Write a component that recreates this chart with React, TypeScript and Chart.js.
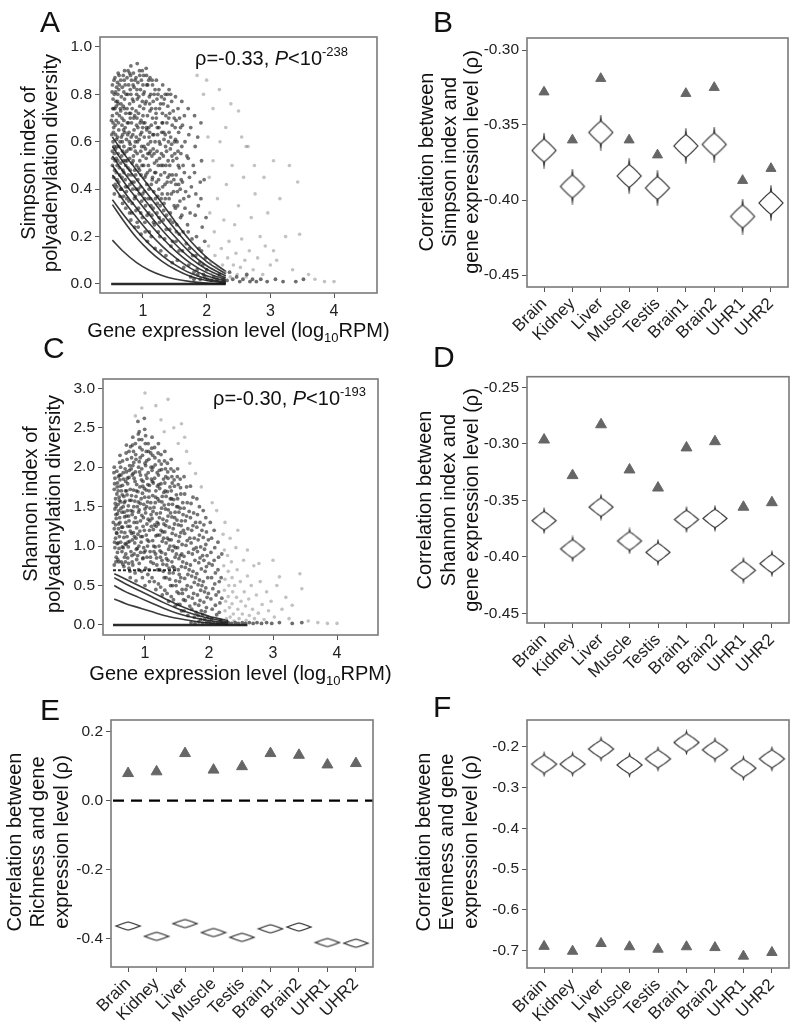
import React, { useEffect, useRef } from 'react';
import { Chart, registerables } from 'chart.js';

Chart.register(...registerables);

const FONT = '"Liberation Sans", Arial, Helvetica, sans-serif';

// ---------- categories ----------
const tissues = ['Brain', 'Kidney', 'Liver', 'Muscle', 'Testis', 'Brain1', 'Brain2', 'UHR1', 'UHR2'];

// ---------- B: Simpson index correlations ----------
const simpsonTriangle = [-0.328, -0.36, -0.319, -0.36, -0.37, -0.329, -0.325, -0.387, -0.379];
const simpsonViolin = [-0.367, -0.391, -0.355, -0.384, -0.392, -0.364, -0.363, -0.411, -0.402];
// ---------- D: Shannon index correlations ----------
const shannonTriangle = [-0.2965, -0.328, -0.283, -0.323, -0.339, -0.3035, -0.298, -0.356, -0.352];
const shannonViolin = [-0.368, -0.393, -0.356, -0.386, -0.396, -0.367, -0.366, -0.412, -0.406];
// ---------- E: Richness correlations ----------
const richnessTriangle = [0.079, 0.084, 0.137, 0.089, 0.099, 0.137, 0.132, 0.104, 0.108];
const richnessViolin = [-0.364, -0.394, -0.357, -0.383, -0.397, -0.372, -0.367, -0.412, -0.414];
const richnessRefLine = 0;
// ---------- F: Evenness correlations ----------
const evennessTriangle = [-0.689, -0.701, -0.682, -0.69, -0.696, -0.69, -0.692, -0.713, -0.704];
const evennessViolin = [-0.243, -0.243, -0.206, -0.245, -0.23, -0.19, -0.208, -0.253, -0.23];

// ---------- tick values ----------
const exprTicks = [1, 2, 3, 4];
const simpsonTicks = [0, 0.2, 0.4, 0.6, 0.8, 1.0];
const shannonTicks = [0, 0.5, 1, 1.5, 2, 2.5, 3];
const bTicks = [-0.45, -0.4, -0.35, -0.3];
const dTicks = [-0.45, -0.4, -0.35, -0.3, -0.25];
const eTicks = [-0.4, -0.2, 0, 0.2];
const fTicks = [-0.7, -0.6, -0.5, -0.4, -0.3, -0.2];

// ---------- A: Simpson index vs expression (read estimates) ----------
const simpsonDense = [
  [0.52,0.84],[0.53,0.78],[0.52,0.71],[0.54,0.66],[0.53,0.6],[0.55,0.55],[0.52,0.5],[0.54,0.45],[0.56,0.87],[0.57,0.81],[0.56,0.74],[0.58,0.69],[0.57,0.63],[0.59,0.58],[0.56,0.52],[0.58,0.47],[0.59,0.41],[0.55,0.38],[0.6,0.85],[0.6,0.77],[0.59,0.72],[0.6,0.62],[0.58,0.53],[0.55,0.8],[0.57,0.57],[0.53,0.68],[0.54,0.74],[0.51,0.63],[0.52,0.56],[0.58,0.75],
  [0.61,0.89],[0.62,0.82],[0.61,0.76],[0.63,0.71],[0.62,0.65],[0.64,0.6],[0.61,0.55],[0.63,0.49],[0.62,0.43],[0.64,0.37],[0.65,0.86],[0.66,0.79],[0.65,0.73],[0.67,0.67],[0.66,0.62],[0.68,0.56],[0.65,0.51],[0.67,0.45],[0.66,0.4],[0.68,0.34],[0.69,0.88],[0.7,0.81],[0.69,0.75],[0.7,0.69],[0.68,0.63],[0.7,0.58],[0.69,0.52],[0.7,0.47],[0.63,0.84],[0.67,0.7],
  [0.71,0.9],[0.72,0.84],[0.71,0.78],[0.73,0.72],[0.72,0.66],[0.74,0.61],[0.71,0.55],[0.73,0.5],[0.72,0.44],[0.74,0.39],[0.73,0.32],[0.75,0.87],[0.76,0.8],[0.75,0.74],[0.77,0.68],[0.76,0.63],[0.78,0.57],[0.75,0.52],[0.77,0.46],[0.76,0.41],[0.78,0.35],[0.79,0.89],[0.8,0.82],[0.79,0.76],[0.8,0.7],[0.78,0.64],[0.8,0.59],[0.79,0.53],[0.8,0.48],[0.79,0.3],
  [0.81,0.92],[0.82,0.86],[0.81,0.8],[0.83,0.74],[0.82,0.68],[0.84,0.63],[0.81,0.57],[0.83,0.51],[0.82,0.46],[0.84,0.4],[0.83,0.34],[0.81,0.27],[0.85,0.89],[0.86,0.83],[0.85,0.77],[0.87,0.71],[0.86,0.65],[0.88,0.6],[0.85,0.54],[0.87,0.48],[0.86,0.43],[0.88,0.37],[0.87,0.24],[0.89,0.87],[0.9,0.8],[0.89,0.73],[0.9,0.67],[0.88,0.56],[0.9,0.5],[0.89,0.31],
  [0.91,0.93],[0.92,0.85],[0.91,0.78],[0.93,0.72],[0.92,0.66],[0.94,0.61],[0.91,0.55],[0.93,0.49],[0.92,0.44],[0.94,0.38],[0.93,0.32],[0.91,0.26],[0.95,0.88],[0.96,0.82],[0.95,0.75],[0.97,0.69],[0.96,0.63],[0.98,0.58],[0.95,0.52],[0.97,0.46],[0.96,0.41],[0.98,0.35],[0.97,0.21],[0.99,0.9],[1.0,0.84],[0.99,0.77],[1.0,0.71],[0.98,0.64],[1.0,0.54],[0.99,0.28],
  [1.01,0.88],[1.02,0.81],[1.01,0.74],[1.03,0.68],[1.02,0.62],[1.04,0.57],[1.01,0.5],[1.03,0.45],[1.02,0.39],[1.04,0.33],[1.03,0.26],[1.05,0.91],[1.06,0.84],[1.05,0.77],[1.07,0.71],[1.06,0.65],[1.08,0.59],[1.05,0.53],[1.07,0.47],[1.06,0.42],[1.08,0.36],[1.07,0.18],[1.09,0.86],[1.1,0.79],[1.09,0.66],[1.1,0.55],[1.09,0.3],[1.1,0.22],
  [1.11,0.87],[1.12,0.8],[1.11,0.73],[1.13,0.67],[1.12,0.6],[1.14,0.54],[1.11,0.48],[1.13,0.42],[1.12,0.36],[1.14,0.29],[1.13,0.2],[1.15,0.84],[1.16,0.77],[1.15,0.7],[1.17,0.63],[1.16,0.57],[1.18,0.51],[1.15,0.45],[1.17,0.39],[1.16,0.32],[1.18,0.25],[1.19,0.82],[1.2,0.74],[1.19,0.6],[1.2,0.47],[1.19,0.15],
  [1.21,0.86],[1.22,0.78],[1.21,0.7],[1.23,0.63],[1.22,0.56],[1.24,0.5],[1.21,0.43],[1.23,0.37],[1.22,0.3],[1.24,0.22],[1.25,0.82],[1.26,0.74],[1.25,0.66],[1.27,0.59],[1.26,0.53],[1.28,0.46],[1.25,0.4],[1.27,0.33],[1.26,0.26],[1.28,0.14],[1.29,0.79],[1.3,0.68],[1.29,0.55],[1.3,0.38],
  [1.31,0.84],[1.32,0.76],[1.31,0.68],[1.33,0.61],[1.32,0.54],[1.34,0.47],[1.31,0.41],[1.33,0.34],[1.32,0.27],[1.34,0.19],[1.35,0.8],[1.36,0.71],[1.35,0.63],[1.37,0.56],[1.36,0.5],[1.38,0.43],[1.35,0.36],[1.37,0.29],[1.36,0.12],[1.39,0.75],[1.4,0.6],[1.39,0.45],
  [1.41,0.82],[1.42,0.72],[1.41,0.64],[1.43,0.57],[1.42,0.5],[1.44,0.43],[1.41,0.36],[1.43,0.3],[1.42,0.23],[1.44,0.16],[1.45,0.77],[1.46,0.67],[1.45,0.59],[1.47,0.52],[1.46,0.46],[1.48,0.39],[1.47,0.26],[1.46,0.09],[1.49,0.7],[1.5,0.55],[1.49,0.33],
  [1.51,0.79],[1.52,0.69],[1.51,0.61],[1.53,0.53],[1.52,0.46],[1.54,0.39],[1.51,0.32],[1.53,0.25],[1.52,0.18],[1.54,0.1],[1.55,0.74],[1.56,0.64],[1.55,0.56],[1.57,0.49],[1.56,0.42],[1.58,0.35],[1.57,0.21],[1.59,0.66],[1.6,0.44],[1.59,0.28],
  [1.61,0.77],[1.62,0.67],[1.61,0.58],[1.63,0.5],[1.62,0.43],[1.64,0.36],[1.61,0.29],[1.63,0.22],[1.62,0.14],[1.64,0.07],[1.65,0.71],[1.66,0.6],[1.65,0.47],[1.67,0.39],[1.66,0.32],[1.68,0.17],[1.69,0.54],[1.7,0.25],
  [1.71,0.74],[1.72,0.63],[1.71,0.53],[1.73,0.45],[1.72,0.37],[1.74,0.3],[1.71,0.22],[1.73,0.15],[1.72,0.08],[1.75,0.66],[1.76,0.41],[1.77,0.19],[1.78,0.12],[1.79,0.5],[1.8,0.05],
  [1.81,0.71],[1.82,0.58],[1.81,0.47],[1.83,0.38],[1.82,0.29],[1.84,0.2],[1.83,0.12],[1.85,0.06],[1.86,0.62],[1.87,0.33],[1.88,0.15],[1.89,0.09],[1.9,0.43],
  [1.91,0.68],[1.92,0.52],[1.91,0.36],[1.93,0.24],[1.92,0.14],[1.94,0.08],[1.95,0.04],[1.96,0.44],[1.97,0.18],[1.98,0.11],[1.99,0.28],[2.0,0.06],
];
const simpsonDenseCore = [
  [0.515,0.81],[0.525,0.74],[0.535,0.64],[0.545,0.58],[0.555,0.48],[0.565,0.42],[0.575,0.77],[0.585,0.61],[0.595,0.5],[0.505,0.69],[0.545,0.86],[0.565,0.67],[0.585,0.83],[0.595,0.44],[0.525,0.53],
  [0.605,0.8],[0.615,0.68],[0.625,0.58],[0.635,0.46],[0.645,0.4],[0.655,0.76],[0.665,0.54],[0.675,0.83],[0.685,0.48],[0.695,0.65],[0.605,0.52],[0.625,0.88],[0.645,0.74],[0.675,0.6],[0.695,0.37],
  [0.705,0.86],[0.715,0.64],[0.725,0.52],[0.735,0.8],[0.745,0.36],[0.755,0.68],[0.765,0.49],[0.775,0.84],[0.785,0.6],[0.795,0.42],[0.705,0.74],[0.725,0.41],[0.745,0.56],[0.765,0.9],[0.785,0.72],
  [0.805,0.88],[0.815,0.62],[0.825,0.43],[0.835,0.78],[0.845,0.52],[0.855,0.7],[0.865,0.36],[0.875,0.86],[0.885,0.46],[0.895,0.62],[0.805,0.72],[0.825,0.3],[0.845,0.84],[0.865,0.58],[0.895,0.4],
  [0.905,0.82],[0.915,0.6],[0.925,0.4],[0.935,0.79],[0.945,0.48],[0.955,0.68],[0.965,0.3],[0.975,0.86],[0.985,0.5],[0.995,0.66],[0.905,0.7],[0.925,0.24],[0.945,0.9],[0.965,0.56],[0.995,0.38],
  [1.005,0.8],[1.015,0.58],[1.025,0.36],[1.035,0.76],[1.045,0.46],[1.055,0.66],[1.065,0.29],[1.075,0.84],[1.085,0.5],[1.095,0.62],[1.005,0.68],[1.035,0.22],[1.055,0.88],[1.075,0.55],[1.095,0.4],
  [1.105,0.76],[1.115,0.56],[1.125,0.33],[1.135,0.74],[1.145,0.44],[1.155,0.63],[1.165,0.26],[1.175,0.8],[1.185,0.47],[1.195,0.68],[1.105,0.64],[1.145,0.86],[1.175,0.55],[1.195,0.36],
  [1.205,0.72],[1.215,0.52],[1.225,0.34],[1.235,0.8],[1.245,0.44],[1.255,0.6],[1.265,0.2],[1.275,0.76],[1.285,0.5],[1.295,0.64],[1.225,0.66],[1.255,0.28],[1.285,0.36],
  [1.305,0.72],[1.315,0.5],[1.325,0.31],[1.335,0.78],[1.345,0.42],[1.355,0.58],[1.365,0.23],[1.375,0.68],[1.385,0.38],[1.395,0.52],[1.325,0.64],[1.385,0.8],
  [1.405,0.7],[1.415,0.46],[1.425,0.27],[1.435,0.62],[1.445,0.38],[1.455,0.54],[1.465,0.18],[1.475,0.73],[1.485,0.44],[1.495,0.6],[1.435,0.8],
  [1.505,0.66],[1.515,0.42],[1.525,0.22],[1.535,0.6],[1.545,0.33],[1.555,0.5],[1.565,0.14],[1.575,0.7],[1.585,0.4],[1.595,0.55],
];
const simpsonNearZero = [
  [1.75,0.03],[1.8,0.02],[1.86,0.04],[1.9,0.02],[1.97,0.03],[2.01,0.02],[2.07,0.015],[2.11,0.03],[2.16,0.02],[2.2,0.04],[2.26,0.02],[2.32,0.015],[2.36,0.05],[2.41,0.02],[2.47,0.03],[2.52,0.01],[2.57,0.02],[2.63,0.04],[2.68,0.01],[2.72,0.02],[2.78,0.01],[2.85,0.02],[2.95,0.01],[3.08,0.02],[3.2,0.01],[3.4,0.01],[3.52,0.02],
];
const simpsonSparse = [
  [2.02,0.62],[2.04,0.45],[2.05,0.3],[2.03,0.16],[2.06,0.09],[2.08,0.04],[2.1,0.52],[2.12,0.22],[2.13,0.12],[2.15,0.07],[2.17,0.36],[2.19,0.03],[2.21,0.6],[2.23,0.15],[2.25,0.08],[2.27,0.27],[2.29,0.05],[2.31,0.42],[2.33,0.11],[2.35,0.18],[2.37,0.03],[2.4,0.5],[2.42,0.08],[2.44,0.25],[2.46,0.13],[2.48,0.04],[2.5,0.33],[2.53,0.07],[2.55,0.19],[2.58,0.45],[2.6,0.1],[2.62,0.03],[2.65,0.58],[2.67,0.14],[2.7,0.28],[2.73,0.06],[2.76,0.38],[2.8,0.11],[2.84,0.2],[2.88,0.04],[2.92,0.16],[2.96,0.3],[3.0,0.08],[3.05,0.14],[3.1,0.1],[3.15,0.36],[3.24,0.2],[3.3,0.5],[3.35,0.06],[3.43,0.43],[3.46,0.21],[3.6,0.04],[3.7,0.02],[3.85,0.01],[4.0,0.01],
  [2.0,0.86],[2.2,0.82],[1.85,0.88],[2.38,0.76],[2.5,0.73],[1.95,0.8],[2.1,0.74],[2.3,0.66],[2.62,0.58],[2.75,0.5],[2.9,0.45],[3.05,0.52],[2.55,0.62],
];
const curveX = [0.52, 0.7, 0.9, 1.1, 1.3, 1.5, 1.75, 2.0, 2.3];
const simpsonCurveY = [
  [0.185, 0.135, 0.09, 0.058, 0.036, 0.021, 0.01, 0.004, 0.001],
  [0.335, 0.265, 0.195, 0.14, 0.095, 0.062, 0.032, 0.015, 0.005],
  [0.355, 0.29, 0.225, 0.168, 0.12, 0.082, 0.045, 0.022, 0.008],
  [0.42, 0.35, 0.28, 0.215, 0.16, 0.113, 0.066, 0.035, 0.013],
  [0.46, 0.39, 0.32, 0.255, 0.195, 0.142, 0.087, 0.048, 0.019],
  [0.5, 0.43, 0.36, 0.292, 0.228, 0.17, 0.108, 0.062, 0.026],
  [0.54, 0.47, 0.4, 0.33, 0.262, 0.2, 0.13, 0.077, 0.034],
  [0.58, 0.51, 0.44, 0.37, 0.3, 0.232, 0.155, 0.094, 0.043],
  [0.62, 0.55, 0.48, 0.41, 0.34, 0.265, 0.18, 0.112, 0.053],
];
const simpsonZeroLine = [[0.5, 0], [2.3, 0]];

// ---------- C: Shannon index vs expression (read estimates) ----------
const shannonDense = [
  [0.52,2.0],[0.53,1.86],[0.52,1.72],[0.54,1.6],[0.53,1.47],[0.55,1.35],[0.52,1.22],[0.54,1.1],[0.53,0.98],[0.55,0.86],[0.52,0.76],[0.56,1.95],[0.57,1.8],[0.56,1.66],[0.58,1.53],[0.57,1.41],[0.59,1.28],[0.56,1.16],[0.58,1.04],[0.57,0.92],[0.59,0.8],[0.6,1.9],[0.6,1.58],[0.59,1.45],[0.6,1.12],[0.55,1.5],[0.58,1.7],[0.54,1.27],
  [0.61,2.15],[0.62,2.0],[0.61,1.84],[0.63,1.7],[0.62,1.56],[0.64,1.43],[0.61,1.3],[0.63,1.18],[0.62,1.05],[0.64,0.93],[0.63,0.8],[0.65,2.08],[0.66,1.93],[0.65,1.77],[0.67,1.63],[0.66,1.5],[0.68,1.37],[0.65,1.24],[0.67,1.11],[0.66,0.98],[0.68,0.86],[0.67,0.74],[0.69,1.98],[0.7,1.82],[0.69,1.57],[0.7,1.3],[0.69,1.03],[0.7,0.9],
  [0.71,2.28],[0.72,2.1],[0.71,1.94],[0.73,1.79],[0.72,1.65],[0.74,1.51],[0.71,1.38],[0.73,1.25],[0.72,1.12],[0.74,0.99],[0.73,0.85],[0.75,0.72],[0.75,2.2],[0.76,2.02],[0.75,1.87],[0.77,1.72],[0.76,1.58],[0.78,1.45],[0.75,1.32],[0.77,1.19],[0.76,1.06],[0.78,0.93],[0.77,0.6],[0.79,2.12],[0.8,1.9],[0.79,1.64],[0.8,1.4],[0.79,1.16],[0.8,0.8],
  [0.81,2.38],[0.82,2.2],[0.81,2.02],[0.83,1.86],[0.82,1.71],[0.84,1.57],[0.81,1.44],[0.83,1.3],[0.82,1.17],[0.84,1.04],[0.83,0.9],[0.81,0.76],[0.85,2.3],[0.86,2.1],[0.85,1.94],[0.87,1.78],[0.86,1.63],[0.88,1.5],[0.85,1.36],[0.87,1.23],[0.86,1.1],[0.88,0.97],[0.87,0.83],[0.86,0.56],[0.89,2.58],[0.9,2.0],[0.89,1.69],[0.9,1.43],[0.89,1.15],[0.9,0.7],
  [0.91,2.45],[0.92,2.25],[0.91,2.07],[0.93,1.9],[0.92,1.75],[0.94,1.6],[0.91,1.46],[0.93,1.32],[0.92,1.19],[0.94,1.05],[0.93,0.92],[0.91,0.78],[0.95,2.35],[0.96,2.15],[0.95,1.98],[0.97,1.82],[0.96,1.67],[0.98,1.53],[0.95,1.39],[0.97,1.25],[0.96,1.12],[0.98,0.98],[0.97,0.85],[0.96,0.6],[0.99,2.62],[1.0,2.05],[0.99,1.73],[1.0,1.47],[0.99,1.2],[1.0,0.5],
  [1.01,2.4],[1.02,2.2],[1.01,2.02],[1.03,1.86],[1.02,1.71],[1.04,1.56],[1.01,1.42],[1.03,1.28],[1.02,1.14],[1.04,1.0],[1.03,0.86],[1.01,0.72],[1.05,2.3],[1.06,2.1],[1.05,1.93],[1.07,1.77],[1.06,1.62],[1.08,1.48],[1.05,1.34],[1.07,1.2],[1.06,1.06],[1.08,0.93],[1.07,0.55],[1.09,2.18],[1.1,1.85],[1.09,1.55],[1.1,1.25],[1.09,0.8],
  [1.11,2.38],[1.12,2.15],[1.11,1.96],[1.13,1.8],[1.12,1.64],[1.14,1.49],[1.11,1.35],[1.13,1.21],[1.12,1.07],[1.14,0.93],[1.13,0.78],[1.11,0.6],[1.15,2.25],[1.16,2.03],[1.15,1.86],[1.17,1.7],[1.16,1.55],[1.18,1.41],[1.15,1.27],[1.17,1.13],[1.16,0.99],[1.18,0.85],[1.17,0.45],[1.19,1.93],[1.2,1.6],[1.19,1.3],[1.2,0.7],
  [1.21,2.3],[1.22,2.08],[1.21,1.9],[1.23,1.73],[1.22,1.57],[1.24,1.42],[1.21,1.28],[1.23,1.14],[1.22,1.0],[1.24,0.86],[1.23,0.7],[1.21,0.52],[1.25,2.16],[1.26,1.97],[1.25,1.79],[1.27,1.63],[1.26,1.48],[1.28,1.34],[1.25,1.2],[1.27,1.06],[1.26,0.92],[1.28,0.77],[1.27,0.38],[1.29,1.85],[1.3,1.52],[1.29,1.1],[1.3,0.6],
  [1.31,2.2],[1.32,1.98],[1.31,1.8],[1.33,1.63],[1.32,1.47],[1.34,1.32],[1.31,1.18],[1.33,1.04],[1.32,0.9],[1.34,0.76],[1.33,0.6],[1.31,0.44],[1.35,2.05],[1.36,1.86],[1.35,1.69],[1.37,1.53],[1.36,1.38],[1.38,1.24],[1.35,1.1],[1.37,0.96],[1.36,0.82],[1.38,0.66],[1.37,0.3],[1.39,1.75],[1.4,1.42],[1.39,1.0],[1.4,0.5],
  [1.41,2.1],[1.42,1.88],[1.41,1.7],[1.43,1.53],[1.42,1.37],[1.44,1.22],[1.41,1.08],[1.43,0.94],[1.42,0.8],[1.44,0.66],[1.43,0.5],[1.41,0.36],[1.45,1.95],[1.46,1.76],[1.45,1.59],[1.47,1.43],[1.46,1.28],[1.48,1.14],[1.45,1.0],[1.47,0.86],[1.46,0.72],[1.48,0.56],[1.47,0.24],[1.49,1.65],[1.5,1.33],[1.49,0.9],[1.5,0.42],
  [1.51,1.98],[1.52,1.78],[1.51,1.6],[1.53,1.43],[1.52,1.27],[1.54,1.12],[1.51,0.98],[1.53,0.84],[1.52,0.7],[1.54,0.55],[1.53,0.4],[1.51,0.26],[1.55,1.85],[1.56,1.66],[1.55,1.48],[1.57,1.32],[1.56,1.17],[1.58,1.02],[1.55,0.88],[1.57,0.74],[1.56,0.6],[1.58,0.45],[1.57,0.18],[1.59,1.55],[1.6,1.2],[1.59,0.8],[1.6,0.32],
  [1.61,1.88],[1.62,1.66],[1.61,1.48],[1.63,1.32],[1.62,1.16],[1.64,1.01],[1.61,0.87],[1.63,0.73],[1.62,0.59],[1.64,0.45],[1.63,0.31],[1.61,0.18],[1.65,1.75],[1.66,1.55],[1.65,1.38],[1.67,1.22],[1.66,1.07],[1.68,0.92],[1.65,0.78],[1.67,0.64],[1.66,0.5],[1.68,0.36],[1.67,0.12],[1.69,1.44],[1.7,1.1],[1.69,0.7],[1.7,0.24],
  [1.71,1.76],[1.72,1.54],[1.71,1.36],[1.73,1.2],[1.72,1.04],[1.74,0.9],[1.71,0.76],[1.73,0.62],[1.72,0.48],[1.74,0.34],[1.73,0.2],[1.75,1.62],[1.76,1.42],[1.75,1.26],[1.77,1.1],[1.76,0.96],[1.78,0.82],[1.75,0.68],[1.77,0.54],[1.76,0.4],[1.78,0.27],[1.77,0.1],[1.79,1.3],[1.8,0.98],[1.79,0.6],[1.8,0.16],
  [1.81,1.6],[1.82,1.4],[1.81,1.24],[1.83,1.08],[1.82,0.93],[1.84,0.79],[1.81,0.65],[1.83,0.51],[1.82,0.38],[1.84,0.25],[1.83,0.12],[1.85,1.5],[1.86,1.3],[1.85,1.14],[1.87,0.99],[1.86,0.85],[1.88,0.71],[1.85,0.57],[1.87,0.44],[1.86,0.31],[1.88,0.18],[1.87,0.07],[1.89,1.2],[1.9,0.88],[1.89,0.5],[1.9,0.13],
  [1.91,1.45],[1.92,1.27],[1.91,1.11],[1.93,0.96],[1.92,0.82],[1.94,0.68],[1.91,0.55],[1.93,0.42],[1.92,0.29],[1.94,0.17],[1.93,0.07],[1.95,1.36],[1.96,1.18],[1.95,1.02],[1.97,0.88],[1.96,0.74],[1.98,0.6],[1.95,0.47],[1.97,0.35],[1.96,0.22],[1.98,0.1],[1.99,1.08],[2.0,0.78],[1.99,0.4],[2.0,0.05],
  [2.02,1.3],[2.04,1.1],[2.03,0.92],[2.05,0.76],[2.04,0.6],[2.06,0.46],[2.03,0.33],[2.05,0.2],[2.04,0.08],[2.08,1.2],[2.09,0.98],[2.08,0.82],[2.1,0.66],[2.09,0.52],[2.11,0.38],[2.1,0.25],[2.12,0.13],[2.14,1.05],[2.15,0.86],[2.14,0.7],[2.16,0.55],[2.15,0.42],[2.17,0.28],[2.16,0.16],[2.18,0.06],[2.2,0.9],[2.19,0.6],[2.2,0.34],
];
const shannonDenseCore = [
  [0.515,1.93],[0.525,1.79],[0.535,1.54],[0.545,1.4],[0.555,1.17],[0.565,1.03],[0.575,0.83],[0.585,1.88],[0.595,1.62],[0.505,1.3],[0.545,0.8],[0.565,1.75],[0.585,1.22],[0.595,0.97],[0.525,1.05],
  [0.605,2.06],[0.615,1.76],[0.625,1.48],[0.635,1.24],[0.645,0.99],[0.655,0.77],[0.665,1.85],[0.675,1.55],[0.685,1.17],[0.695,0.8],[0.605,1.36],[0.625,1.9],[0.645,1.65],[0.675,1.43],[0.695,1.7],
  [0.705,2.18],[0.715,1.7],[0.725,1.45],[0.735,1.05],[0.745,0.78],[0.755,1.96],[0.765,1.25],[0.775,2.26],[0.785,1.58],[0.795,0.88],[0.705,1.02],[0.725,1.86],[0.745,1.38],[0.765,0.68],[0.785,1.98],
  [0.805,2.28],[0.815,1.92],[0.825,1.5],[0.835,1.12],[0.845,0.66],[0.855,2.16],[0.865,1.7],[0.875,1.3],[0.885,0.88],[0.895,2.42],[0.805,1.08],[0.825,2.06],[0.845,1.82],[0.865,0.96],[0.895,1.56],
  [0.905,2.35],[0.915,1.94],[0.925,1.54],[0.935,1.12],[0.945,0.68],[0.955,2.22],[0.965,1.76],[0.975,1.36],[0.985,0.92],[0.995,2.48],[0.905,1.0],[0.925,2.12],[0.945,1.84],[0.965,0.84],[0.995,1.62],
  [1.005,2.3],[1.015,1.9],[1.025,1.5],[1.035,1.08],[1.045,0.64],[1.055,2.2],[1.065,1.7],[1.075,1.32],[1.085,0.86],[1.095,2.0],[1.005,0.94],[1.025,2.08],[1.045,1.78],[1.065,0.7],[1.095,1.4],
  [1.105,2.24],[1.115,1.82],[1.125,1.44],[1.135,1.0],[1.145,0.55],[1.155,2.12],[1.165,1.62],[1.175,1.25],[1.185,0.76],[1.195,1.76],[1.125,2.0],[1.165,0.9],[1.195,1.14],
  [1.205,2.18],[1.215,1.78],[1.225,1.36],[1.235,0.94],[1.245,0.48],[1.255,2.04],[1.265,1.56],[1.275,1.18],[1.285,0.68],[1.295,1.68],[1.225,1.96],[1.265,0.82],[1.295,1.28],
  [1.305,2.08],[1.315,1.7],[1.325,1.26],[1.335,0.84],[1.345,0.4],[1.355,1.94],[1.365,1.46],[1.375,1.08],[1.385,0.58],[1.395,1.6],[1.325,1.88],[1.375,0.72],
  [1.405,1.98],[1.415,1.6],[1.425,1.16],[1.435,0.74],[1.445,0.32],[1.455,1.84],[1.465,1.36],[1.475,0.98],[1.485,0.5],[1.495,1.5],[1.425,1.8],
  [1.505,1.88],[1.515,1.5],[1.525,1.06],[1.535,0.64],[1.545,0.26],[1.555,1.74],[1.565,1.26],[1.575,0.9],[1.585,0.4],[1.595,1.4],
];
const shannonNearZero = [
  [1.72,0.03],[1.78,0.02],[1.84,0.04],[1.9,0.02],[1.96,0.03],[2.02,0.02],[2.07,0.03],[2.13,0.02],[2.19,0.03],[2.24,0.02],[2.3,0.03],[2.35,0.02],[2.41,0.03],[2.46,0.02],[2.52,0.03],[2.57,0.02],[2.63,0.03],[2.69,0.02],[2.75,0.03],[2.82,0.02],[2.9,0.03],[2.98,0.02],[3.1,0.03],[3.3,0.02],[3.45,0.03],
];
const shannonSparse = [
  [2.22,1.15],[2.24,0.95],[2.23,0.75],[2.25,0.58],[2.24,0.44],[2.26,0.3],[2.25,0.18],[2.27,0.08],[2.29,0.88],[2.3,0.68],[2.31,0.5],[2.3,0.36],[2.32,0.22],[2.33,0.1],[2.35,0.8],[2.36,0.6],[2.37,0.42],[2.36,0.27],[2.38,0.14],[2.39,0.05],[2.4,0.5],
  [2.42,0.98],[2.44,0.7],[2.43,0.35],[2.45,0.2],[2.47,0.08],[2.49,0.55],[2.5,0.3],[2.52,0.14],[2.54,0.82],[2.55,0.42],[2.57,0.24],[2.58,0.06],[2.6,0.62],[2.62,0.33],[2.63,0.12],[2.66,0.5],[2.68,0.2],[2.7,0.75],[2.71,0.08],
  [2.74,0.38],[2.77,0.15],[2.8,0.55],[2.83,0.26],[2.86,0.07],[2.9,0.42],[2.93,0.18],[2.97,0.3],[3.0,0.82],[3.02,0.1],[3.06,0.5],[3.1,0.61],[3.14,0.2],[3.2,0.35],[3.25,0.08],[3.3,0.25],[3.42,0.65],[3.45,0.46],[3.55,0.05],[3.7,0.03],[3.85,0.02],[4.0,0.02],
  [1.0,2.94],[1.17,2.78],[1.36,2.86],[1.45,2.5],[1.57,2.55],[0.95,2.75],[1.25,2.6],[1.3,2.45],[1.52,2.3],[1.65,2.2],[1.79,1.92],[1.7,2.05],[1.88,1.75],[2.05,1.55],[2.12,1.45],[2.25,1.3],[2.33,1.1],[2.45,1.2],[2.6,0.95],[2.78,0.78],[1.62,2.38],[0.85,2.65],
];
const shannonCurveY = [
  [0.33, 0.27, 0.22, 0.17, 0.12, 0.085, 0.05, 0.025, 0.01],
  [0.5, 0.42, 0.35, 0.28, 0.21, 0.15, 0.095, 0.055, 0.025],
  [0.6, 0.52, 0.44, 0.36, 0.28, 0.21, 0.14, 0.085, 0.04],
  [0.65, 0.58, 0.5, 0.42, 0.34, 0.26, 0.18, 0.11, 0.055],
];
const shannonZeroLine = [[0.5, 0], [2.6, 0]];
const shannonLn2Line = [[0.5, 0.693], [1.5, 0.693]];

// ---------- helpers ----------
type Seg = { t: string; size: number; italic?: boolean; dy?: number };

function drawRich(ctx: CanvasRenderingContext2D, segs: Seg[], x: number, y: number, align: 'left' | 'center') {
  const fontOf = (s: Seg) => `${s.italic ? 'italic ' : ''}${s.size}px ${FONT}`;
  let total = 0;
  for (const s of segs) { ctx.font = fontOf(s); total += ctx.measureText(s.t).width; }
  let cx = align === 'center' ? x - total / 2 : x;
  ctx.textAlign = 'left';
  ctx.textBaseline = 'alphabetic';
  for (const s of segs) {
    ctx.font = fontOf(s);
    ctx.fillText(s.t, cx, y + (s.dy || 0));
    cx += ctx.measureText(s.t).width;
  }
}

type Deco = {
  letter: string; letterX: number; letterY: number;
  yTitle: string[]; yTitleX: number[]; yTitleY: number;
  xTitleY?: number; note?: Seg[]; noteX?: number; noteY?: number;
  refLine?: number;
};

const xTitleSegs: Seg[] = [
  { t: 'Gene expression level (log', size: 20 },
  { t: '10', size: 13, dy: 5 },
  { t: 'RPM)', size: 20 },
];

function makeDeco(d: Deco) {
  return {
    id: 'deco',
    beforeDatasetsDraw(chart: any) {
      if (d.refLine === undefined) return;
      const { ctx, chartArea: ca } = chart;
      const y = chart.scales.y.getPixelForValue(d.refLine);
      ctx.save();
      ctx.strokeStyle = '#000';
      ctx.lineWidth = 2.3;
      ctx.setLineDash([11, 7]);
      ctx.beginPath();
      ctx.moveTo(ca.left + 2, y);
      ctx.lineTo(ca.right, y);
      ctx.stroke();
      ctx.restore();
    },
    afterDraw(chart: any) {
      const { ctx, chartArea: ca } = chart;
      ctx.save();
      ctx.strokeStyle = '#7a7a7a';
      ctx.lineWidth = 1.6;
      ctx.strokeRect(ca.left, ca.top, ca.right - ca.left, ca.bottom - ca.top);
      ctx.fillStyle = '#111';
      ctx.font = `30px ${FONT}`;
      ctx.textAlign = 'left';
      ctx.textBaseline = 'alphabetic';
      ctx.fillText(d.letter, d.letterX, d.letterY);
      ctx.font = `20px ${FONT}`;
      ctx.textAlign = 'center';
      ctx.textBaseline = 'middle';
      d.yTitle.forEach((line, i) => {
        ctx.save();
        ctx.translate(d.yTitleX[i], d.yTitleY);
        ctx.rotate(-Math.PI / 2);
        ctx.fillText(line, 0, 0);
        ctx.restore();
      });
      if (d.xTitleY !== undefined) drawRich(ctx, xTitleSegs, (ca.left + ca.right) / 2, d.xTitleY, 'center');
      if (d.note) drawRich(ctx, d.note, d.noteX!, d.noteY!, 'left');
      ctx.restore();
    },
  };
}

function makeViolin(w: number, h: number, body: number): HTMLCanvasElement {
  const pad = 2;
  const c = document.createElement('canvas');
  c.width = Math.ceil(w + pad * 2);
  c.height = Math.ceil(h + pad * 2);
  const g = c.getContext('2d')!;
  const cx = c.width / 2, cy = c.height / 2, a = w / 2, b = h / 2;
  const tail = 0.7;
  const hw = (t: number) => {
    const u = Math.abs(t);
    const bw = u < body ? a * Math.pow(1 - u / body, 0.85) : 0;
    const tw = body < 1 ? tail * (1 - u) / (1 - body + 1e-6) * 0.9 : 0;
    return Math.max(bw, Math.min(tw, tail));
  };
  const N = 90;
  g.beginPath();
  for (let i = 0; i <= N; i++) { const t = -1 + (2 * i) / N; g.lineTo(cx + hw(t), cy + t * b); }
  for (let i = N; i >= 0; i--) { const t = -1 + (2 * i) / N; g.lineTo(cx - hw(t), cy + t * b); }
  g.closePath();
  g.fillStyle = '#fff';
  g.fill();
  g.strokeStyle = '#3c3c3c';
  g.lineWidth = 1.2;
  g.lineJoin = 'miter';
  g.stroke();
  return c;
}

const tickFont = { family: FONT, size: 15.5 };
const axisGrid = { display: true, drawOnChartArea: false, drawTicks: true, tickLength: 5, color: '#555', lineWidth: 1 };

function yScale(min: number, max: number, ticks: number[], digits: number, width: number) {
  return {
    type: 'linear', position: 'left', min, max,
    afterBuildTicks: (s: any) => { s.ticks = ticks.map((v) => ({ value: v })); },
    afterFit: (s: any) => { s.width = width; },
    grid: axisGrid,
    border: { display: false },
    ticks: { font: tickFont, color: '#222', padding: 3, callback: (v: any) => Number(v).toFixed(digits) },
  };
}

const toXY = (a: number[][]) => a.map(([x, y]) => ({ x, y }));

type ScatterSpec = {
  dense: number[][]; core: number[][]; nearZero: number[][]; sparse: number[][]; curvesY: number[][];
  lines: { pts: number[][]; width: number; dash?: number[] }[];
  xMin: number; xMax: number; yMin: number; yMax: number; yTicks: number[]; yW: number; xH: number;
  padTop: number; padRight: number; deco: Deco;
};

function scatterConfig(s: ScatterSpec): any {
  // dataset index 0 is painted last (on top)
  const datasets: any[] = [];
  datasets.push({ data: toXY(s.dense), pointRadius: 1.9, borderWidth: 0, backgroundColor: 'rgba(30,30,30,0.62)' });
  datasets.push({ data: toXY(s.core), pointRadius: 1.9, borderWidth: 0, backgroundColor: 'rgba(30,30,30,0.62)' });
  datasets.push({ data: toXY(s.nearZero), pointRadius: 1.9, borderWidth: 0, backgroundColor: 'rgba(30,30,30,0.65)' });
  datasets.push({ data: toXY(s.sparse), pointRadius: 1.8, borderWidth: 0, backgroundColor: 'rgba(110,110,110,0.42)' });
  s.lines.forEach((l) => {
    datasets.push({
      data: toXY(l.pts), showLine: true, pointRadius: 0, borderWidth: l.width,
      borderColor: 'rgba(20,20,20,0.9)', borderDash: l.dash || [], fill: false,
    });
  });
  s.curvesY.forEach((ys) => {
    datasets.push({
      data: curveX.map((x, i) => ({ x, y: ys[i] })),
      showLine: true, pointRadius: 0, borderWidth: 1.6, borderColor: 'rgba(25,25,25,0.85)',
      cubicInterpolationMode: 'monotone', fill: false,
    });
  });
  return {
    type: 'scatter',
    data: { datasets },
    options: {
      responsive: false, animation: false, events: [],
      layout: { padding: { top: s.padTop, right: s.padRight, left: 0, bottom: 0 } },
      plugins: { legend: { display: false }, tooltip: { enabled: false } },
      scales: {
        x: {
          type: 'linear', min: s.xMin, max: s.xMax,
          afterBuildTicks: (sc: any) => { sc.ticks = exprTicks.map((v) => ({ value: v })); },
          afterFit: (sc: any) => { sc.height = s.xH; },
          grid: axisGrid, border: { display: false },
          ticks: { font: { family: FONT, size: 16 }, color: '#222', padding: 4, maxRotation: 0, callback: (v: any) => String(v) },
        },
        y: yScale(s.yMin, s.yMax, s.yTicks, 1, s.yW),
      },
    },
    plugins: [makeDeco(s.deco)],
  };
}

type CatSpec = {
  triangles: number[]; violins: number[]; violin: { w: number; h: number; body: number }; triR: number;
  yMin: number; yMax: number; yTicks: number[]; digits: number; yW: number; xH: number;
  padTop: number; padRight: number; deco: Deco;
};

function catConfig(s: CatSpec): any {
  const img = makeViolin(s.violin.w, s.violin.h, s.violin.body);
  return {
    type: 'scatter',
    data: {
      datasets: [
        { data: s.violins.map((v, i) => ({ x: i, y: v })), pointStyle: img, pointRadius: 6 },
        {
          data: s.triangles.map((v, i) => ({ x: i, y: v })), pointStyle: 'triangle', pointRadius: s.triR,
          backgroundColor: '#666', borderColor: '#666', borderWidth: 1,
        },
      ],
    },
    options: {
      responsive: false, animation: false, events: [],
      layout: { padding: { top: s.padTop, right: s.padRight, left: 0, bottom: 0 } },
      plugins: { legend: { display: false }, tooltip: { enabled: false } },
      scales: {
        x: {
          type: 'linear', min: -0.6, max: tissues.length - 1 + 0.6,
          afterBuildTicks: (sc: any) => { sc.ticks = tissues.map((_, i) => ({ value: i })); },
          afterFit: (sc: any) => { sc.height = s.xH; },
          grid: axisGrid, border: { display: false },
          ticks: {
            font: { family: FONT, size: 17 }, color: '#222', padding: 2, autoSkip: false,
            maxRotation: 45, minRotation: 45, callback: (v: any) => tissues[Math.round(Number(v))] ?? '',
          },
        },
        y: yScale(s.yMin, s.yMax, s.yTicks, s.digits, s.yW),
      },
    },
    plugins: [makeDeco(s.deco)],
  };
}

// ---------- panel builders ----------
const makeA = () => scatterConfig({
  dense: simpsonDense, core: simpsonDenseCore, nearZero: simpsonNearZero, sparse: simpsonSparse, curvesY: simpsonCurveY,
  lines: [{ pts: simpsonZeroLine, width: 2.6 }],
  xMin: 0.325, xMax: 4.675, yMin: -0.038, yMax: 1.042, yTicks: simpsonTicks, yW: 100, xH: 57,
  padTop: 37, padRight: 23,
  deco: {
    letter: 'A', letterX: 40, letterY: 32,
    yTitle: ['Simpson index of', 'polyadenylation diversity'], yTitleX: [29, 51], yTitleY: 163,
    xTitleY: 337,
    note: [{ t: 'ρ=-0.33, ', size: 20 }, { t: 'P', size: 20, italic: true }, { t: '<10', size: 20 }, { t: '-238', size: 13, dy: -9 }],
    noteX: 195, noteY: 65,
  },
});

const makeC = () => scatterConfig({
  dense: shannonDense, core: shannonDenseCore, nearZero: shannonNearZero, sparse: shannonSparse, curvesY: shannonCurveY,
  lines: [{ pts: shannonZeroLine, width: 2.6 }, { pts: shannonLn2Line, width: 2, dash: [3, 2] }],
  xMin: 0.344, xMax: 4.64, yMin: -0.127, yMax: 3.118, yTicks: shannonTicks, yW: 103, xH: 65,
  padTop: 49, padRight: 22,
  deco: {
    letter: 'C', letterX: 43, letterY: 28,
    yTitle: ['Shannon index of', 'polyadenylation diversity'], yTitleX: [31, 54], yTitleY: 174,
    xTitleY: 350,
    note: [{ t: 'ρ=-0.30, ', size: 20 }, { t: 'P', size: 20, italic: true }, { t: '<10', size: 20 }, { t: '-193', size: 13, dy: -9 }],
    noteX: 213, noteY: 75,
  },
});

const makeB = () => catConfig({
  triangles: simpsonTriangle, violins: simpsonViolin, violin: { w: 24, h: 32, body: 0.7 }, triR: 5.8,
  yMin: -0.458, yMax: -0.292, yTicks: bTicks, digits: 2, yW: 127, xH: 63, padTop: 38, padRight: 12,
  deco: {
    letter: 'B', letterX: 33, letterY: 32,
    yTitle: ['Correlation between', 'Simpson index and', 'gene expression level (ρ)'], yTitleX: [27, 50, 72], yTitleY: 162,
  },
});

const makeD = () => catConfig({
  triangles: shannonTriangle, violins: shannonViolin, violin: { w: 24, h: 23, body: 0.78 }, triR: 6.3,
  yMin: -0.4586, yMax: -0.2406, yTicks: dTicks, digits: 2, yW: 127, xH: 77, padTop: 46.7, padRight: 11,
  deco: {
    letter: 'D', letterX: 33, letterY: 37,
    yTitle: ['Correlation between', 'Shannon index and', 'gene expression level (ρ)'], yTitleX: [25, 49, 72], yTitleY: 170,
  },
});

const makeE = () => catConfig({
  triangles: richnessTriangle, violins: richnessViolin, violin: { w: 24, h: 8, body: 1 }, triR: 6.3,
  yMin: -0.483, yMax: 0.234, yTicks: eTicks, digits: 1, yW: 111, xH: 58, padTop: 60, padRight: 27,
  deco: {
    letter: 'E', letterX: 40, letterY: 60,
    yTitle: ['Correlation between', 'Richness and gene', 'expression level (ρ)'], yTitleX: [15, 38, 62], yTitleY: 182,
    refLine: richnessRefLine,
  },
});

const makeF = () => catConfig({
  triangles: evennessTriangle, violins: evennessViolin, violin: { w: 25, h: 22, body: 0.8 }, triR: 6,
  yMin: -0.742, yMax: -0.135, yTicks: fTicks, digits: 1, yW: 127, xH: 57, padTop: 60, padRight: 11,
  deco: {
    letter: 'F', letterX: 33, letterY: 57,
    yTitle: ['Correlation between', 'Evenness and gene', 'expression level (ρ)'], yTitleX: [24, 47, 71], yTitleY: 182,
  },
});

function ChartCanvas({ left, top, width, height, make }: { left: number; top: number; width: number; height: number; make: () => any }) {
  const ref = useRef<HTMLCanvasElement | null>(null);
  useEffect(() => {
    if (!ref.current) return;
    const chart = new Chart(ref.current, make());
    return () => chart.destroy();
  }, [make]);
  return (
    <canvas
      ref={ref}
      width={width}
      height={height}
      style={{ position: 'absolute', left, top, width, height, display: 'block' }}
    />
  );
}

export default function App() {
  return (
    <div style={{ position: 'absolute', left: 0, top: 0, width: 800, height: 1025, background: '#fff', overflow: 'hidden' }}>
      <ChartCanvas left={0} top={0} width={400} height={350} make={makeA} />
      <ChartCanvas left={400} top={0} width={400} height={350} make={makeB} />
      <ChartCanvas left={0} top={330} width={400} height={370} make={makeC} />
      <ChartCanvas left={400} top={330} width={400} height={370} make={makeD} />
      <ChartCanvas left={0} top={660} width={400} height={365} make={makeE} />
      <ChartCanvas left={400} top={660} width={400} height={365} make={makeF} />
    </div>
  );
}
